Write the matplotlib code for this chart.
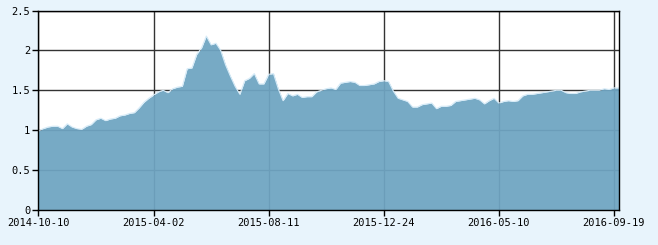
import matplotlib
matplotlib.use('Agg')
import matplotlib.pyplot as plt

# 净值数据（按序号等距排列）
values = [
    0.99, 1.02, 1.04, 1.05, 1.05, 1.02, 1.08, 1.04, 1.02, 1.01,
    1.05, 1.07, 1.13, 1.15, 1.12, 1.14, 1.15, 1.18, 1.19, 1.21,
    1.22, 1.28, 1.35, 1.40, 1.44, 1.48, 1.50, 1.47, 1.52, 1.54,
    1.55, 1.77, 1.78, 1.95, 2.03, 2.18, 2.07, 2.09, 2.00, 1.82,
    1.68, 1.55, 1.45, 1.62, 1.65, 1.71, 1.58, 1.58, 1.70, 1.71,
    1.52, 1.37, 1.46, 1.43, 1.45, 1.41, 1.42, 1.42, 1.48, 1.50,
    1.52, 1.53, 1.51, 1.59, 1.60, 1.61, 1.60, 1.56, 1.56, 1.57,
    1.58, 1.61, 1.62, 1.61, 1.49, 1.40, 1.38, 1.36, 1.29, 1.29,
    1.32, 1.33, 1.34, 1.27, 1.30, 1.30, 1.31, 1.36, 1.37, 1.38,
    1.39, 1.40, 1.38, 1.33, 1.37, 1.40, 1.34, 1.36, 1.37, 1.36,
    1.37, 1.43, 1.45, 1.45, 1.46, 1.47, 1.48, 1.49, 1.50, 1.50,
    1.47, 1.46, 1.46, 1.48, 1.49, 1.50, 1.50, 1.50, 1.52, 1.51,
    1.53, 1.53,
]
tick_labels = ['2014-10-10', '2015-04-02', '2015-08-11',
               '2015-12-24', '2016-05-10', '2016-09-19']
y_ticks = [0, 0.5, 1, 1.5, 2, 2.5]
y_labels = ['0', '0.5', '1', '1.5', '2', '2.5']

x = list(range(len(values)))
step = 24

fig = plt.figure(figsize=(6.58, 2.45), dpi=100, facecolor='#e8f4fc')
ax = fig.add_axes([0.0585, 0.1429, 0.8818, 0.8142])
ax.set_facecolor('white')

ax.fill_between(x, values, 0, color='#6fa5c2', alpha=0.94, lw=0, zorder=3)
ax.plot(x, values, color='#d6ebf8', lw=0.8, zorder=4)

ax.set_xlim(0, len(values) - 1)
ax.set_ylim(0, 2.5)
ax.set_xticks([i * step for i in range(len(tick_labels))])
ax.set_xticklabels(tick_labels)
ax.set_yticks(y_ticks)
ax.set_yticklabels(y_labels)

ax.grid(True, color='#333333', lw=1.0, zorder=1)
ax.set_axisbelow(True)
ax.tick_params(axis='both', direction='out', length=4, width=1, color='black',
               labelsize=7.5, pad=2)
for lab in ax.get_xticklabels() + ax.get_yticklabels():
    lab.set_family('DejaVu Sans Mono')
for s in ax.spines.values():
    s.set_color('black')
    s.set_linewidth(1.0)
    s.set_zorder(5)

plt.savefig('out.png', dpi=100, facecolor=fig.get_facecolor())
plt.close()
